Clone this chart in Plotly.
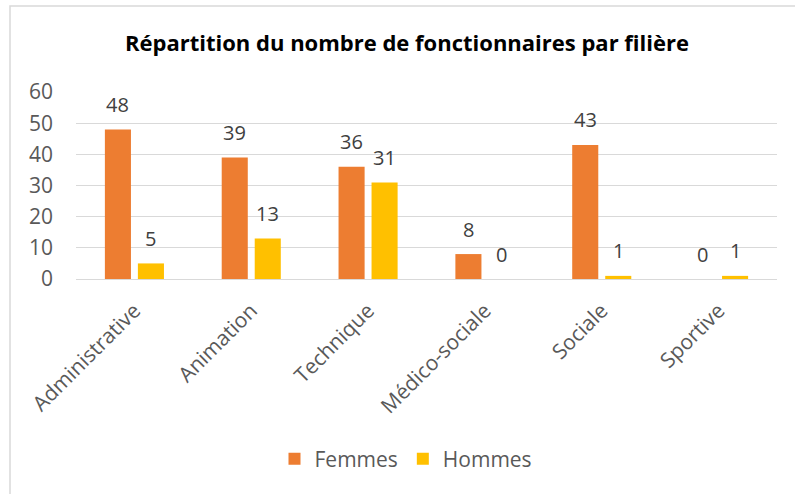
import plotly.graph_objects as go

categories = ["Administrative", "Animation", "Technique", "Médico-sociale", "Sociale", "Sportive"]
femmes = [48, 39, 36, 8, 43, 0]
hommes = [5, 13, 31, 0, 1, 1]
series_names = ["Femmes", "Hommes"]
y_ticks = [0, 10, 20, 30, 40, 50, 60]
title_text = "Répartition du nombre de fonctionnaires par filière"

W, H = 795, 494
ML, MR, MT, MB = 76, 18, 92, 215
plot_w = W - ML - MR
plot_h = H - MT - MB
BARGAP = 0.435
BARGROUPGAP = 0.21

FONT = "Open Sans"
ORANGE = "#ED7D31"
YELLOW = "#FFC000"
GRID = "#D9D9D9"
TXT = "#595959"
LBL = "#404040"
FS = 21

fig = go.Figure()
colors = [ORANGE, YELLOW]
series = [femmes, hommes]
for name, vals, col in zip(series_names, series, colors):
    fig.add_trace(go.Bar(x=categories, y=vals, name=name, marker=dict(color=col, line=dict(width=0))))

slot = plot_w / len(categories) * (1 - BARGAP) / len(series)
annotations = []
for i, vals in enumerate(series):
    shift = (i - (len(series) - 1) / 2) * slot
    for c, v in zip(categories, vals):
        annotations.append(dict(x=c, y=v, xref="x", yref="y", text=str(v), showarrow=False,
                                xshift=shift, yshift=25, yanchor="middle", xanchor="center",
                                font=dict(family=FONT, size=20, color=LBL)))

fig.update_layout(
    width=W, height=H,
    margin=dict(l=ML, r=MR, t=MT, b=MB, autoexpand=False),
    paper_bgcolor="white", plot_bgcolor="white",
    barmode="group", bargap=BARGAP, bargroupgap=BARGROUPGAP,
    title=dict(text="<b>" + title_text + "</b>", x=407 / W, xanchor="center",
               y=1 - 43 / H, yanchor="middle", yref="container",
               font=dict(family=FONT, size=22, color="#000000")),
    font=dict(family=FONT, size=FS, color=TXT),
    xaxis=dict(type="category", tickangle=-45, showgrid=False, showline=True, linecolor=GRID,
               linewidth=1, ticks="", ticklabelstandoff=10,
               tickfont=dict(family=FONT, size=FS, color=TXT), fixedrange=True),
    yaxis=dict(range=[0, 60], tickvals=y_ticks, showgrid=True, gridcolor=GRID, gridwidth=1,
               zeroline=False, showline=False, ticks="", ticklabelstandoff=22,
               tickfont=dict(family=FONT, size=FS, color=TXT), fixedrange=True),
    legend=dict(orientation="h", x=406 / W, xanchor="center", xref="container",
                y=1 - 459 / H, yanchor="middle", yref="container",
                font=dict(family=FONT, size=FS, color=TXT), itemwidth=30,
                traceorder="normal"),
    annotations=annotations,
    shapes=[dict(type="rect", xref="paper", yref="paper",
                 x0=(10 - ML) / plot_w, x1=2, y0=-3, y1=1 + (MT - 6) / plot_h,
                 line=dict(color=GRID, width=1.5), fillcolor="rgba(0,0,0,0)", layer="below")],
)

fig.write_html("out.html", config={"displayModeBar": False},
               post_script="document.body.style.margin='0px';document.body.style.overflow='hidden';")
